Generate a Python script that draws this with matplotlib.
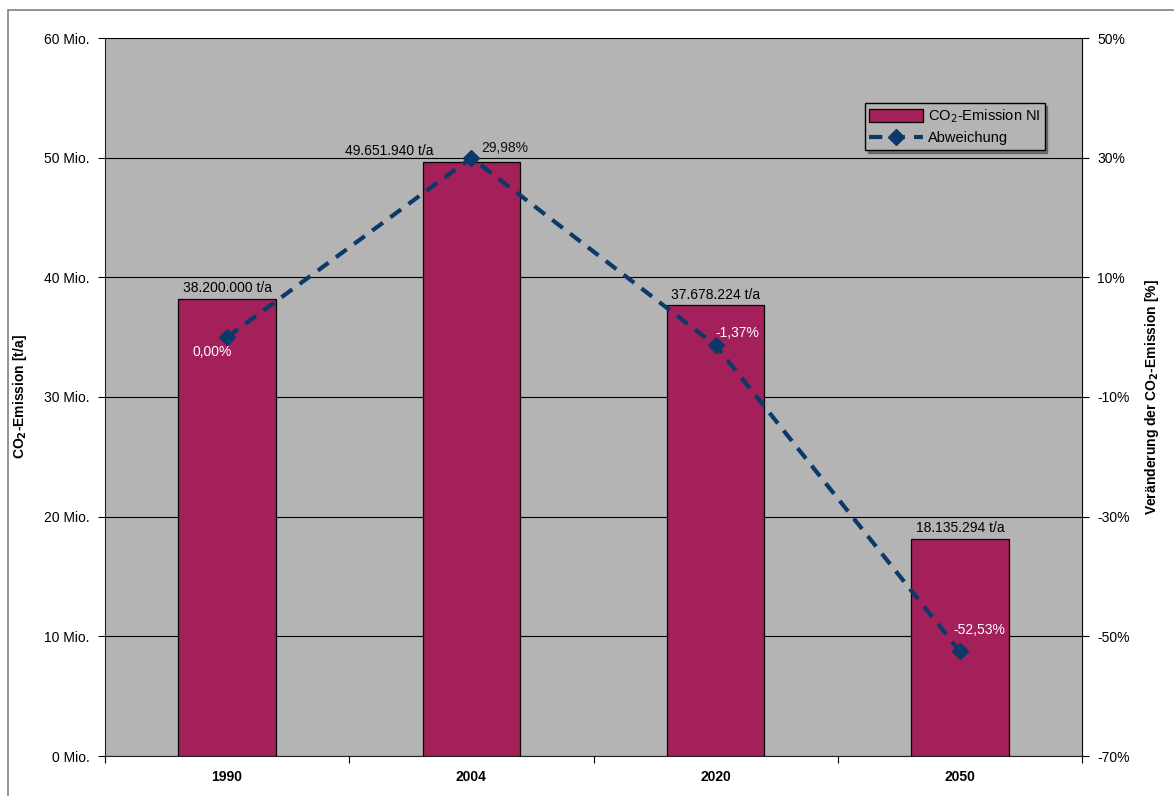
import matplotlib
matplotlib.use("Agg")
import matplotlib.pyplot as plt
from matplotlib.patches import Rectangle
from matplotlib.ticker import FuncFormatter, FixedLocator

plt.rcParams['font.family'] = ['Liberation Sans', 'DejaVu Sans']

# CO2 emissions (t/a) and change relative to 1990
years = ['1990', '2004', '2020', '2050']
emission = [38200000, 49651940, 37678224, 18135294]
change = [0.00, 29.98, -1.37, -52.53]
emission_labels = ['38.200.000 t/a', '49.651.940 t/a', '37.678.224 t/a', '18.135.294 t/a']
change_labels = ['0,00%', '29,98%', '-1,37%', '-52,53%']

bar_color = '#A3205A'
line_color = '#0B3A6A'
bg = '#B4B4B4'
fs = 10

fig = plt.figure(figsize=(11.74, 7.96), dpi=100)
ax = fig.add_axes([105 / 1174, 1 - 756 / 796, 977 / 1174, 718 / 796])
ax2 = ax.twinx()

# outer chart frame
fig.patches.append(Rectangle((8 / 1174, -0.01), 1.0, 1 - 10 / 796 + 0.01,
                             transform=fig.transFigure, fill=False,
                             edgecolor='#808080', lw=1.2))

x = list(range(len(years)))
ax.set_facecolor(bg)
ax.bar(x, emission, width=0.4, color=bar_color, edgecolor='black', lw=0.9, zorder=3,
       label='CO$_2$-Emission NI')
ax.set_ylim(0, 60e6)
ax.set_xlim(-0.5, 3.5)
ax.yaxis.set_major_locator(FixedLocator([i * 10e6 for i in range(7)]))
ax.yaxis.set_major_formatter(FuncFormatter(lambda v, p: '%d Mio.' % round(v / 1e6)))
ax.grid(axis='y', color='black', lw=0.8, zorder=1)
ax.set_axisbelow(True)

# category separators as major ticks, year labels centred via minor ticks
ax.set_xticks([-0.5, 0.5, 1.5, 2.5, 3.5])
ax.set_xticklabels([])
ax.set_xticks(x, minor=True)
ax.set_xticklabels(years, minor=True, fontweight='bold', fontsize=fs)
ax.tick_params(axis='x', which='minor', length=0, pad=10)
ax.tick_params(axis='x', which='major', length=5, direction='out')
ax.tick_params(axis='y', labelsize=fs, length=5, pad=6)

for s in ['top', 'right']:
    ax.spines[s].set_visible(False)
for s in ax2.spines.values():
    s.set_visible(False)
ax2.spines['right'].set_visible(True)
ax.spines['left'].set_color('#222222')
ax.spines['bottom'].set_color('#222222')

ax2.plot(x, change, ls=(0, (3.2, 2.2)), color=line_color, lw=3, marker='D', ms=8,
         label='Abweichung', zorder=5)
ax2.set_ylim(-70, 50)
ax2.set_yticks([50, 30, 10, -10, -30, -50, -70])
ax2.yaxis.set_major_formatter(FuncFormatter(lambda v, p: '%d%%' % v))
ax2.tick_params(axis='y', labelsize=fs, length=5, pad=6)

ax.set_ylabel('CO$_\\mathbf{2}$-Emission [t/a]', fontweight='bold', fontsize=fs)
ax.yaxis.set_label_coords(-76 / 977, 0.5)
ax2.set_ylabel('Veränderung der CO$_\\mathbf{2}$-Emission [%]', fontweight='bold', fontsize=fs)
ax2.yaxis.set_label_coords(1 + 61 / 977, 0.5)

# value labels on bars
label_dx = [0, -0.335, 0, 0]
for i, (v, t) in enumerate(zip(emission, emission_labels)):
    ax.text(i + label_dx[i], v + 0.3e6, t, ha='center', va='bottom', fontsize=fs, zorder=6)

# percentage labels next to markers (x offset in categories, y offset in %)
offsets = [(-0.06, -2.5, 'white'), (0.135, 1.7, '#111111'),
           (0.09, 2.0, 'white'), (0.08, 3.6, 'white')]
for i, (p, t) in enumerate(zip(change, change_labels)):
    dx, dy, c = offsets[i]
    ax2.text(i + dx, p + dy, t, ha='center', va='center', fontsize=fs, color=c, zorder=6)

h1, l1 = ax.get_legend_handles_labels()
h2, l2 = ax2.get_legend_handles_labels()
leg = ax2.legend(h1 + h2, l1 + l2, loc='upper left', bbox_to_anchor=(760 / 977, 1 - 65 / 718),
                 fontsize=10.5, frameon=True, fancybox=False, shadow=True, framealpha=1,
                 facecolor=bg, edgecolor='black', borderpad=0.3, handlelength=3.7,
                 handleheight=1.0, handletextpad=0.3, labelspacing=0.4, borderaxespad=0)
leg.get_frame().set_linewidth(1.0)

fig.savefig('out.png', dpi=100, facecolor='white')
